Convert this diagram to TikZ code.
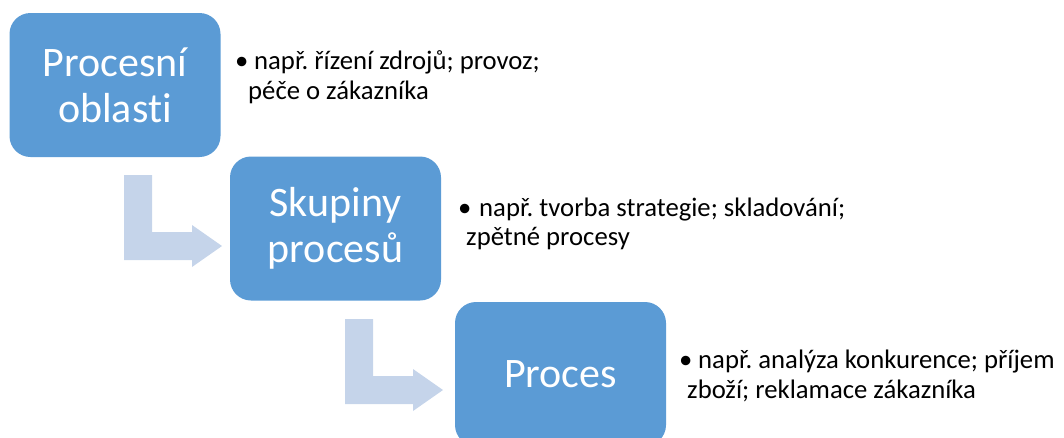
\documentclass[tikz,border=0pt]{standalone}
\usepackage{fontspec}
\setmainfont{Carlito}[Ligatures=NoCommon]
\frenchspacing
\definecolor{boxblue}{HTML}{5B9BD5}
\definecolor{arrowblue}{HTML}{C5D4EA}
\begin{document}
\begin{tikzpicture}[x=1pt,y=-1pt,
  level/.style={fill=boxblue, rounded corners=21pt, text=white,
    minimum width=211pt, minimum height=144pt, inner sep=0pt,
    align=center, font=\fontsize{42}{46}\selectfont},
  note/.style={anchor=base west, inner sep=0pt,
    font=\fontsize{26.7}{30}\selectfont},
  elbowarrow/.style={fill=arrowblue, draw=none}]
\useasboundingbox (0,0) rectangle (1064,437);

% three levels of the process hierarchy
\node[level] (b1) at (115,85) {Procesní\\oblasti};
\node[level] (b2) at (335.5,228.5) {Skupiny\\procesů};
\node[level] (b3) at (560.5,374) {Proces};

% bent arrows leading down to the next level
\coordinate (a1) at (124,175);
\coordinate (a2) at (345,319);
\foreach \a in {a1,a2} {
  \fill[elbowarrow] (\a) -- ++(28,0) -- ++(0,57) -- ++(40,0) -- ++(0,-7)
    -- ++(30,21) -- ++(-30,21) -- ++(0,-7) -- ++(-68,0) -- cycle;
}

% examples for each level
\node[note] (t1) at (235,69) {\makebox[19pt][l]{•}např. řízení zdrojů; provoz;};
\node[note] (t1b) at (248,99) {péče o zákazníka};
\node[note] (t2) at (458,216) {\makebox[21pt][l]{•}např. tvorba strategie; skladování;};
\node[note] (t2b) at (466,245) {zpětné procesy};
\node[note] (t3) at (679,368) {\makebox[19pt][l]{•}např. analýza konkurence; příjem};
\node[note] (t3b) at (687,398) {zboží; reklamace zákazníka};
\end{tikzpicture}
\end{document}
